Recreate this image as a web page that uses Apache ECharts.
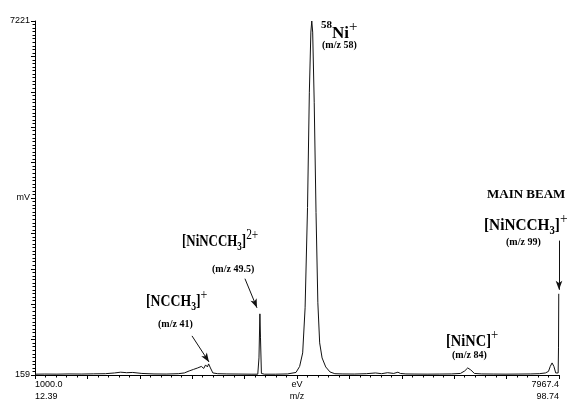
<!DOCTYPE html>
<html>
<head>
<meta charset="utf-8">
<script src="https://cdn.jsdelivr.net/npm/echarts@6/dist/echarts.min.js"></script>
<style>html,body{margin:0;padding:0;background:#fff;}#c{width:581px;height:399px;}</style>
</head>
<body>
<div id="c"></div>
<script>
// m/z positions of the spectrum samples
var mzValues = [12.39, 14, 16, 18, 20, 22, 24, 25.5, 26.5, 27.5, 28.5, 30, 32, 34, 36, 37, 37.8, 38.5, 39.2, 39.8, 40.2, 40.5, 40.8, 41.0, 41.3, 41.7, 42.5, 44, 46, 48, 49.1, 49.3, 49.45, 49.55, 49.7, 50.2, 52, 54, 55.4, 56, 56.5, 56.9, 57.3, 57.6, 57.85, 58, 58.15, 58.4, 58.7, 59, 59.3, 59.7, 60.3, 61, 61.8, 63, 65, 67, 68.5, 69.5, 70.5, 71.5, 72.2, 72.6, 73.5, 75, 77, 79, 81, 82.5, 83.2, 83.7, 84.2, 84.8, 86, 88, 90, 92, 94, 95.5, 96.5, 97, 97.3, 97.6, 97.9, 98.2, 98.45, 98.6, 98.66, 98.7, 98.74];
// signal in mV
var signalValues = [175, 178, 176, 180, 178, 182, 185, 200, 215, 205, 210, 190, 180, 178, 185, 200, 240, 270, 300, 330, 290, 360, 320, 380, 300, 200, 185, 180, 178, 175, 175, 500, 1379, 900, 190, 175, 175, 180, 210, 330, 600, 1500, 3500, 5800, 7000, 7221, 7000, 5600, 3400, 1600, 800, 500, 320, 220, 185, 180, 178, 185, 200, 185, 205, 190, 215, 190, 180, 178, 176, 178, 180, 190, 240, 300, 260, 190, 180, 178, 176, 178, 180, 185, 200, 230, 330, 400, 330, 200, 190, 200, 700, 1779, 1779];
var xTickLabels = ['1000.0\n12.39', 'eV\nm/z', '7967.4\n98.74'];
var yTickLabels = ['159', 'mV', '7221'];
var xRange = [12.39, 98.74];
var yRange = [159, 7221];
// annotation arrows in data units: [startMz, startMv, endMz, endMv]
var arrows = [
  [38.26, 939, 41.06, 419],
  [46.99, 2080, 48.97, 1499],
  [98.74, 2840, 98.74, 1859]
];

var data = mzValues.map(function (m, i) { return [m, signalValues[i]]; });

var chart = echarts.init(document.getElementById('c'));
var serif = 'Liberation Serif';
var rich = {
  b: {fontFamily: serif, fontWeight: 'bold', fontSize: 17, lineHeight: 22, verticalAlign: 'bottom', color: '#000'},
  sup: {fontFamily: serif, fontWeight: 'bold', fontSize: 11, lineHeight: 22, verticalAlign: 'top', color: '#000'},
  supp: {fontFamily: serif, fontSize: 15, lineHeight: 22, verticalAlign: 'top', color: '#000'},
  sub: {fontFamily: serif, fontWeight: 'bold', fontSize: 12, lineHeight: 22, verticalAlign: 'bottom', color: '#000', padding: [0, 0, -3, 0]}
};
function bigLabel(x, y, text, sx) {
  return {type: 'text', x: x, y: y, scaleX: sx || 1, style: {text: text, rich: rich}};
}
function smallLabel(x, y, text) {
  return {type: 'text', x: x, y: y, style: {text: text, fontFamily: serif, fontWeight: 'bold', fontSize: 10, fill: '#000'}};
}

chart.setOption({
  animation: false,
  backgroundColor: '#fff',
  grid: {left: 35, right: 22, top: 21, bottom: 24, containLabel: false, outerBoundsMode: 'none'},
  xAxis: [
    {type: 'value', min: xRange[0], max: xRange[1], show: false},
    {type: 'value', min: 0, max: 10, interval: 1, position: 'bottom',
     axisLine: {show: true, onZero: false, lineStyle: {color: '#000', width: 1}},
     axisTick: {show: true, length: 4, lineStyle: {color: '#000'}},
     minorTick: {show: true, splitNumber: 5, length: 2.5, lineStyle: {color: '#000'}},
     splitLine: {show: false},
     axisLabel: {show: true, color: '#000', fontFamily: 'Liberation Sans', fontSize: 9, lineHeight: 12, margin: 4,
       alignMinLabel: 'left', alignMaxLabel: 'right',
       formatter: function (v) { if (v === 0) return xTickLabels[0]; if (v === 5) return xTickLabels[1]; if (v === 10) return xTickLabels[2]; return ''; }}}
  ],
  yAxis: [
    {type: 'value', min: yRange[0], max: yRange[1], show: false},
    {type: 'value', min: 0, max: 10, interval: 1, position: 'left',
     axisLine: {show: true, onZero: false, lineStyle: {color: '#000', width: 1}},
     axisTick: {show: true, length: 4, lineStyle: {color: '#000'}},
     minorTick: {show: true, splitNumber: 10, length: 2.5, lineStyle: {color: '#000'}},
     splitLine: {show: false},
     axisLabel: {show: true, color: '#000', fontFamily: 'Liberation Sans', fontSize: 9, margin: 5,
       formatter: function (v) { if (v === 0) return yTickLabels[0]; if (v === 5) return yTickLabels[1]; if (v === 10) return yTickLabels[2]; return ''; }}}
  ],
  series: [{
    type: 'line', xAxisIndex: 0, yAxisIndex: 0, data: data, symbol: 'none', smooth: false,
    lineStyle: {color: '#111', width: 1},
    markLine: {
      silent: true, symbol: ['none', 'arrow'], symbolSize: [5, 9],
      lineStyle: {color: '#111', width: 1, type: 'solid'},
      label: {show: false},
      data: arrows.map(function (a) { return [{coord: [a[0], a[1]]}, {coord: [a[2], a[3]]}]; })
    }
  }],
  graphic: [
    bigLabel(321, 20, '{sup|58}{b|Ni}{supp|+}'),
    smallLabel(322, 40, '(m/z 58)'),
    bigLabel(182, 228, '{b|[NiNCCH}{sub|3}{b|]}{supp|2+}', 0.76),
    smallLabel(212, 264, '(m/z 49.5)'),
    bigLabel(146, 288, '{b|[NCCH}{sub|3}{b|]}{supp|+}', 0.81),
    smallLabel(158, 319, '(m/z 41)'),
    bigLabel(446, 328, '{b|[NiNC]}{supp|+}', 0.85),
    smallLabel(452, 350, '(m/z 84)'),
    {type: 'text', x: 487, y: 188, style: {text: 'MAIN BEAM', fontFamily: serif, fontSize: 13, fontWeight: 'bold', fill: '#000'}},
    bigLabel(484, 212, '{b|[NiNCCH}{sub|3}{b|]}{supp|+}', 0.9),
    smallLabel(506, 237, '(m/z 99)')
  ]
});
</script>
</body>
</html>
